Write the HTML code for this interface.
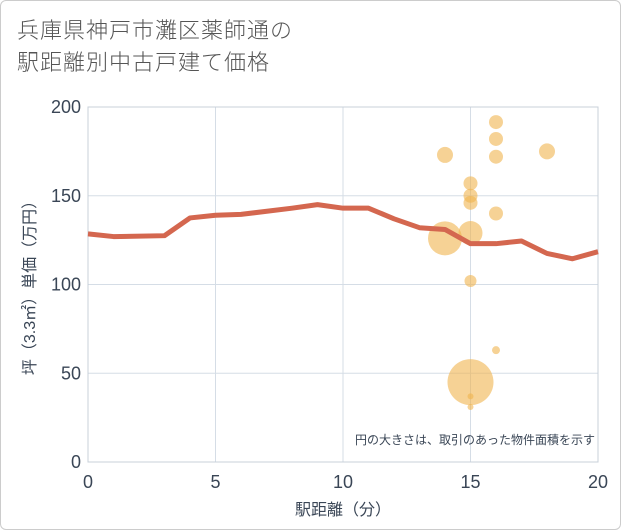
<!DOCTYPE html>
<html><head><meta charset="utf-8"><style>
body{margin:0;background:#fff;font-family:"Liberation Sans","Noto Sans CJK JP",sans-serif;}
#wrap{position:relative;width:619px;height:528px;border:1px solid #ccc;border-radius:6px;overflow:hidden;}
#title{position:absolute;left:16px;top:14px;font-size:22px;line-height:32px;color:#555;letter-spacing:1px;font-weight:300;}
svg{position:absolute;left:0;top:0;}
</style></head><body>
<div id="wrap">
<div id="title">兵庫県神戸市灘区薬師通の<br>駅距離別中古戸建て価格</div>
<svg id="chart" width="621" height="530"></svg>
</div>
<script>
const xTicks=[0,5,10,15,20];
const yTicks=[0,50,100,150,200];
const lineX=[0,1,3,4,5,6,8,9,10,11,12,13,14,15,16,17,18,19,20];
const lineY=[128.5,127,127.5,137.5,139,139.5,143,145,143,143,137,132,131,123,123,124.5,117.5,114.5,118.5];
const bubX=[14,16,16,16,18,15,15,15,16,14,15,15,16,15,15,15];
const bubY=[173,191.5,182,172,175,157,150,146,140,126,129,102,63,45,37,31];
const bubR=[8,7,7,7,8,7,7,7,7,17,12,6,4,23,3,3];
const L=87,R=597,T=106,B=461;
const sx=v=>L+(R-L)*v/20, sy=v=>B-(B-T)*v/200;
const svg=document.getElementById('chart');const NS='http://www.w3.org/2000/svg';
function mk(t,a,p){const e=document.createElementNS(NS,t);for(const k in a)e.setAttribute(k,a[k]);(p||svg).appendChild(e);return e;}
for(const v of xTicks){const g=mk('line',{x1:sx(v),x2:sx(v),y1:T,y2:B,stroke:'#d5dde6','stroke-width':1});


const t=mk('text',{x:sx(v),y:487,'text-anchor':'middle','font-size':18,fill:'#3a4656'});t.textContent=v;

}
for(const v of yTicks){const g=mk('line',{x1:L,x2:R,y1:sy(v),y2:sy(v),stroke:'#d5dde6','stroke-width':1});


const t=mk('text',{x:80,y:sy(v)+6,'text-anchor':'end','font-size':18,fill:'#3a4656'});t.textContent=v;

}
const fr=mk('rect',{x:L,y:T,width:R-L,height:B-T,fill:'none',stroke:'#c8d0da'});


for(let i=0;i<bubX.length;i++){const c=mk('circle',{cx:sx(bubX[i]),cy:sy(bubY[i]),r:bubR[i],fill:'#f0b44f','fill-opacity':0.6});

}
const pts=lineX.map((x,i)=>sx(x)+','+sy(lineY[i])).join(' ');
const pl=mk('polyline',{points:pts,fill:'none',stroke:'#d4674f','stroke-width':5,'stroke-linejoin':'round'});


const xt=mk('text',{x:342,y:514,'text-anchor':'middle','font-size':16,fill:'#3a4656'});xt.textContent='駅距離（分）';


const yt=mk('text',{x:0,y:0,'text-anchor':'middle','font-size':16,fill:'#3a4656',transform:'translate(34,283) rotate(-90)'});yt.textContent='坪（3.3㎡）単価（万円）';


const nt=mk('text',{x:594,y:443,'text-anchor':'end','font-size':12,fill:'#3a4656'});nt.textContent='円の大きさは、取引のあった物件面積を示す';


</script>
</body></html>
